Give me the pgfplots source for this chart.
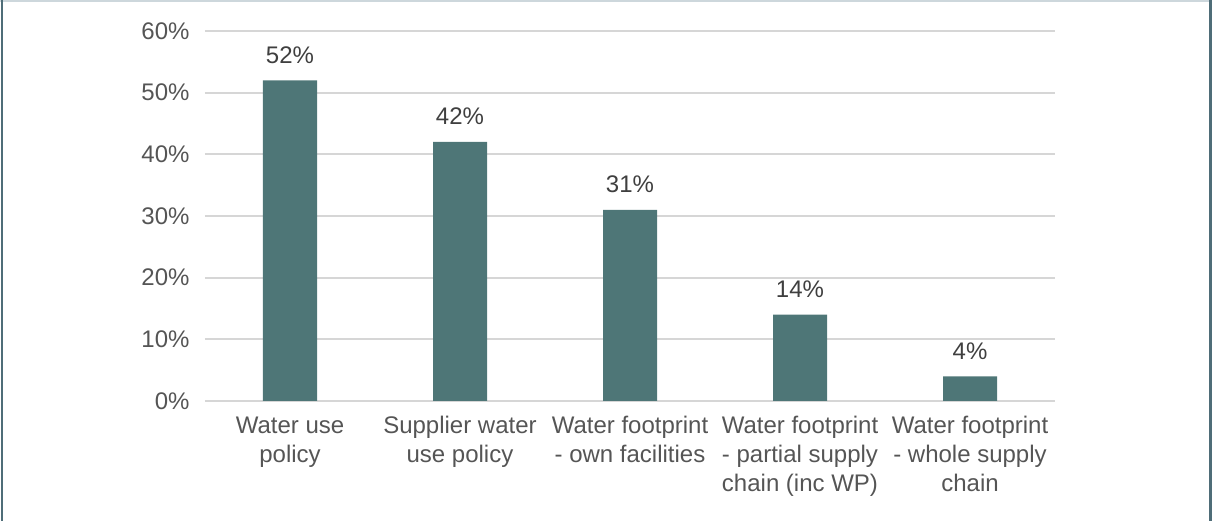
\documentclass[border=0pt]{standalone}
\usepackage{pgfplots}
\pgfplotsset{compat=1.18}
\usepackage{fontspec}
\setmainfont{Liberation Sans}
\definecolor{barcol}{HTML}{4E7677}
\definecolor{gridcol}{HTML}{D6D6D6}
\definecolor{ticktxt}{HTML}{555555}
\definecolor{valtxt}{HTML}{3F3F3F}
\definecolor{framedark}{HTML}{4F6D78}
\definecolor{framelight}{HTML}{CDD7DC}
\begin{document}
\begin{tikzpicture}[x=1pt,y=1pt]
% page outline
\path[use as bounding box] (-205,-120) rectangle (1007,401);
\draw[framelight, line width=1.5pt] (-205,400.2) -- (1007,400.2);
\draw[framedark, line width=2.5pt] (-203,-120) -- (-203,401);
\draw[framedark, line width=2.5pt] (1005.5,-120) -- (1005.5,401);
\begin{axis}[
  at={(0,0)}, anchor=south west,
  scale only axis, width=850pt, height=370pt,
  ymin=0, ymax=60, xmin=-0.5, xmax=4.5,
  ybar, bar width=54pt,
  axis line style={draw=none},
  major tick length=0pt,
  ymajorgrids, grid style={gridcol, line width=1.8pt},
  ytick={0,10,...,60},
  yticklabels={0\%,10\%,20\%,30\%,40\%,50\%,60\%},
  yticklabel style={font=\fontsize{24}{28}\selectfont, text=ticktxt, xshift=-12pt},
  xtick={0,1,2,3,4},
  xticklabels={{Water use\\policy},{Supplier water\\use policy},{Water footprint\\- own facilities},{Water footprint\\- partial supply\\chain (inc WP)},{Water footprint\\- whole supply\\chain}},
  xticklabel style={align=center, font=\fontsize{24}{29}\selectfont, text=ticktxt, anchor=north, yshift=-12pt},
  nodes near coords={\pgfmathprintnumber[assume math mode=true]{\pgfplotspointmeta}\%},
  every node near coord/.append style={font=\fontsize{24}{28}\selectfont, text=valtxt, anchor=base, inner sep=0pt, yshift=17pt},
]
\addplot[fill=barcol, draw=none] coordinates {(0,52) (1,42) (2,31) (3,14) (4,4)};
\end{axis}
\end{tikzpicture}
\end{document}
